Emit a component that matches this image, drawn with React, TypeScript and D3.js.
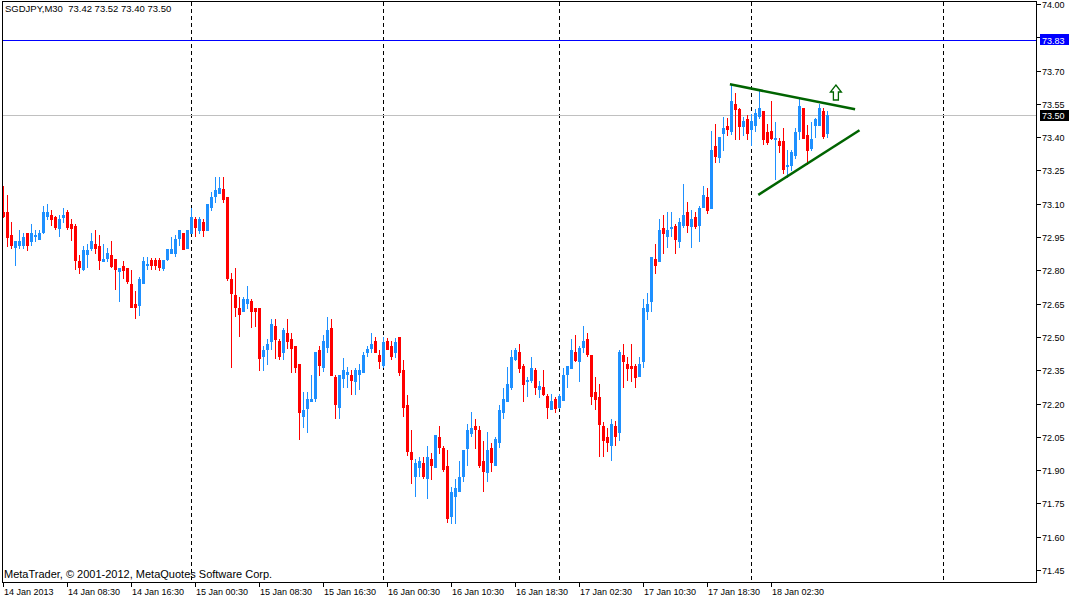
import * as d3 from "d3";
import React from "react";

// SGDJPY M30, one value per bar (bar 0 = 14 Jan 2013 00:30)
const opens = [
  73.065, 73.065, 72.96, 72.905, 72.915, 72.915, 72.97, 72.93, 72.955, 72.94,
  72.975, 73.045, 73.05, 73.04, 72.99, 73.04, 73.065, 73.01, 73.0, 72.84,
  72.805, 72.875, 72.9, 72.92, 72.91, 72.84, 72.855, 72.87, 72.85, 72.795,
  72.82, 72.81, 72.74, 72.65, 72.645, 72.745, 72.825, 72.845, 72.845, 72.845,
  72.81, 72.85, 72.88, 72.88, 72.945, 72.97, 72.9, 72.97, 73.03, 72.98,
  73.02, 72.98, 73.085, 73.135, 73.15, 73.165, 73.13, 72.76, 72.69, 72.63,
  72.615, 72.655, 72.66, 72.63, 72.63, 72.415, 72.445, 72.48, 72.55, 72.48,
  72.43, 72.52, 72.49, 72.46, 72.38, 72.145, 72.18, 72.21, 72.225, 72.44,
  72.365, 72.455, 72.54, 72.32, 72.185, 72.315, 72.335, 72.33, 72.3, 72.335,
  72.34, 72.43, 72.45, 72.48, 72.42, 72.375, 72.48, 72.46, 72.43, 72.5,
  72.35, 72.195, 71.98, 71.875, 71.915, 71.93, 71.865, 71.95, 71.915, 72.05,
  72.0, 71.92, 71.695, 71.785, 71.805, 71.875, 72.0, 72.065, 72.1, 72.08,
  71.94, 71.89, 72.0, 71.925, 72.025, 72.16, 72.21, 72.275, 72.4, 72.43,
  72.37, 72.3, 72.305, 72.35, 72.265, 72.275, 72.235, 72.175, 72.22, 72.185,
  72.215, 72.335, 72.36, 72.43, 72.39, 72.455, 72.49, 72.42, 72.25, 72.23,
  72.1, 72.05, 72.015, 72.1, 72.07, 72.42, 72.38, 72.37, 72.37, 72.325,
  72.39, 72.615, 72.66, 72.85, 72.84, 72.99, 72.955, 72.99, 73.0, 72.93,
  73.005, 73.065, 73.0, 73.04, 73.005, 73.085, 73.13, 73.08, 73.36, 73.31,
  73.42, 73.45, 73.43, 73.55, 73.525, 73.45, 73.48, 73.435, 73.455, 73.495,
  73.52, 73.425, 73.43, 73.39, 73.385, 73.385, 73.27, 73.275, 73.32, 73.43,
  73.53, 73.41, 73.35, 73.455, 73.455, 73.52, 73.42,
];
const highs = [
  73.18, 73.14, 73.02, 72.93, 72.98, 72.97, 72.97, 73.01, 72.98, 72.98,
  73.09, 73.1, 73.07, 73.045, 73.05, 73.08, 73.07, 73.03, 73.01, 72.87,
  72.91, 72.92, 72.97, 72.98, 72.96, 72.92, 72.9, 72.93, 72.85, 72.81,
  72.84, 72.81, 72.8, 72.705, 72.77, 72.86, 72.86, 72.855, 72.855, 72.855,
  72.845, 72.895, 72.95, 72.96, 72.98, 72.97, 72.98, 73.08, 73.04, 73.04,
  73.03, 73.1, 73.155, 73.22, 73.22, 73.22, 73.13, 72.79, 72.81, 72.68,
  72.68, 72.73, 72.67, 72.63, 72.63, 72.46, 72.49, 72.58, 72.58, 72.49,
  72.54, 72.58, 72.52, 72.46, 72.38, 72.25, 72.25, 72.33, 72.43, 72.46,
  72.51, 72.59, 72.58, 72.33, 72.33, 72.405, 72.365, 72.35, 72.36, 72.38,
  72.43, 72.46, 72.52, 72.5, 72.44, 72.5, 72.495, 72.48, 72.495, 72.5,
  72.395, 72.24, 72.08, 71.95, 71.96, 71.96, 72.01, 71.975, 72.06, 72.1,
  72.01, 71.99, 71.825, 71.86, 71.94, 71.99, 72.11, 72.16, 72.13, 72.1,
  72.03, 72.07, 72.02, 72.05, 72.195, 72.27, 72.365, 72.44, 72.45, 72.47,
  72.38, 72.32, 72.41, 72.36, 72.3, 72.35, 72.245, 72.245, 72.23, 72.245,
  72.36, 72.37, 72.49, 72.51, 72.46, 72.55, 72.52, 72.42, 72.32, 72.29,
  72.115, 72.09, 72.13, 72.12, 72.44, 72.47, 72.41, 72.47, 72.38, 72.41,
  72.67, 72.7, 72.86, 72.92, 73.03, 73.05, 73.065, 73.065, 73.01, 73.035,
  73.19, 73.11, 73.07, 73.065, 73.09, 73.18, 73.17, 73.43, 73.46, 73.4,
  73.49, 73.485, 73.64, 73.6, 73.53, 73.49, 73.5, 73.505, 73.525, 73.61,
  73.52, 73.46, 73.565, 73.47, 73.395, 73.44, 73.34, 73.34, 73.44, 73.58,
  73.53, 73.455, 73.47, 73.485, 73.55, 73.53, 73.52,
];
const lows = [
  73.04, 72.91, 72.9, 72.825, 72.9, 72.9, 72.89, 72.915, 72.93, 72.94,
  72.97, 73.03, 73.005, 72.985, 72.955, 73.02, 72.985, 72.935, 72.805, 72.79,
  72.8, 72.815, 72.89, 72.88, 72.805, 72.84, 72.84, 72.815, 72.715, 72.66,
  72.765, 72.745, 72.635, 72.585, 72.6, 72.745, 72.805, 72.805, 72.805, 72.8,
  72.8, 72.845, 72.88, 72.865, 72.915, 72.895, 72.9, 72.97, 72.955, 72.97,
  72.955, 72.98, 73.07, 73.11, 73.15, 73.11, 72.755, 72.365, 72.595, 72.505,
  72.615, 72.63, 72.545, 72.55, 72.35, 72.35, 72.38, 72.445, 72.405, 72.4,
  72.4, 72.45, 72.34, 72.34, 72.04, 72.095, 72.07, 72.21, 72.21, 72.33,
  72.345, 72.43, 72.33, 72.135, 72.135, 72.275, 72.275, 72.245, 72.245, 72.265,
  72.34, 72.415, 72.43, 72.43, 72.36, 72.365, 72.445, 72.4, 72.41, 72.33,
  72.145, 71.97, 71.84, 71.785, 71.875, 71.865, 71.775, 71.86, 71.915, 71.975,
  71.895, 71.665, 71.66, 71.66, 71.805, 71.85, 71.925, 72.055, 72.0, 71.915,
  71.805, 71.85, 71.895, 71.925, 72.005, 72.135, 72.21, 72.265, 72.395, 72.34,
  72.21, 72.235, 72.295, 72.245, 72.23, 72.24, 72.135, 72.175, 72.16, 72.18,
  72.215, 72.275, 72.36, 72.39, 72.3, 72.43, 72.415, 72.2, 72.175, 71.965,
  71.965, 71.985, 71.945, 72.015, 72.035, 72.275, 72.305, 72.3, 72.275, 72.325,
  72.365, 72.58, 72.615, 72.79, 72.84, 72.88, 72.905, 72.955, 72.88, 72.905,
  72.995, 72.975, 72.905, 72.99, 72.93, 73.085, 73.06, 73.08, 73.29, 73.29,
  73.34, 73.41, 73.415, 73.39, 73.39, 73.41, 73.39, 73.365, 73.43, 73.485,
  73.37, 73.37, 73.39, 73.21, 73.335, 73.24, 73.22, 73.25, 73.305, 73.39,
  73.395, 73.28, 73.34, 73.4, 73.455, 73.395, 73.4,
];
const closes = [
  73.045, 72.95, 72.915, 72.93, 72.93, 72.95, 72.915, 72.97, 72.96, 72.97,
  73.065, 73.065, 73.03, 72.995, 73.03, 73.05, 72.995, 72.99, 72.845, 72.815,
  72.89, 72.89, 72.93, 72.9, 72.845, 72.85, 72.88, 72.82, 72.805, 72.81,
  72.8, 72.75, 72.635, 72.635, 72.76, 72.84, 72.83, 72.825, 72.825, 72.815,
  72.845, 72.895, 72.895, 72.94, 72.98, 72.895, 72.98, 73.04, 72.995, 73.03,
  72.98, 73.1, 73.13, 73.16, 73.17, 73.12, 72.765, 72.7, 72.635, 72.605,
  72.67, 72.67, 72.615, 72.615, 72.405, 72.44, 72.47, 72.56, 72.49, 72.415,
  72.53, 72.48, 72.45, 72.365, 72.16, 72.17, 72.22, 72.22, 72.43, 72.375,
  72.48, 72.53, 72.33, 72.2, 72.33, 72.35, 72.34, 72.305, 72.35, 72.35,
  72.42, 72.445, 72.47, 72.43, 72.39, 72.475, 72.445, 72.415, 72.475, 72.34,
  72.185, 71.985, 71.95, 71.93, 71.94, 71.875, 71.96, 71.925, 72.06, 72.005,
  71.905, 71.685, 71.8, 71.82, 71.87, 71.99, 72.08, 72.09, 72.085, 71.925,
  71.895, 71.99, 71.935, 72.04, 72.17, 72.22, 72.29, 72.41, 72.44, 72.36,
  72.29, 72.305, 72.36, 72.275, 72.28, 72.245, 72.185, 72.21, 72.18, 72.235,
  72.33, 72.37, 72.44, 72.395, 72.45, 72.48, 72.425, 72.235, 72.22, 72.11,
  72.035, 72.025, 72.11, 72.055, 72.43, 72.39, 72.36, 72.36, 72.32, 72.38,
  72.63, 72.65, 72.86, 72.825, 72.98, 72.97, 72.98, 72.995, 72.94, 73.02,
  73.05, 73.005, 73.03, 73.0, 73.08, 73.14, 73.07, 73.34, 73.315, 73.4,
  73.44, 73.435, 73.565, 73.525, 73.45, 73.475, 73.42, 73.475, 73.51, 73.53,
  73.39, 73.38, 73.395, 73.395, 73.365, 73.255, 73.275, 73.335, 73.425, 73.54,
  73.395, 73.34, 73.39, 73.48, 73.53, 73.405, 73.5,
];

const priceTicks = [
  74.0, 73.85, 73.7, 73.55, 73.4, 73.25, 73.1, 72.95, 72.8, 72.65, 72.5,
  72.35, 72.2, 72.05, 71.9, 71.75, 71.6, 71.45,
];
const timeTickBars = [0, 16, 32, 48, 64, 80, 96, 112, 128, 144, 160, 176, 192];
const timeTickLabels = [
  "14 Jan 2013", "14 Jan 08:30", "14 Jan 16:30", "15 Jan 00:30", "15 Jan 08:30",
  "15 Jan 16:30", "16 Jan 00:30", "16 Jan 10:30", "16 Jan 18:30", "17 Jan 02:30",
  "17 Jan 10:30", "17 Jan 18:30", "18 Jan 02:30",
];
const separatorBars = [47, 95, 139, 187, 235];
const upperTrend: [number, number][] = [[181.6, 73.638], [212.9, 73.526]];
const lowerTrend: [number, number][] = [[188.7, 73.14], [214.0, 73.431]];
const arrowAt: [number, number] = [208.1, 73.635];
const levelPrice = 73.836;
const levelLabel = "73.83";
const bidPrice = 73.5;
const header = "SGDJPY,M30\u00a0\u00a073.42 73.52 73.40 73.50";
const copyright = "MetaTrader, © 2001-2012, MetaQuotes Software Corp.";

const W = 1075;
const H = 599;
const plotLeft = 2.5;
const plotTop = 1.5;
const plotRight = 1036.5;
const plotBottom = 582.5;
const font = "'Liberation Sans', Arial, sans-serif";
const bull = "#1E90FF";
const bear = "#FF0000";
const trendColor = "#006400";

export default function App() {
  const x = d3.scaleLinear([0, 258], [3.5, 3.5 + 4 * 258]);
  const y = d3.scaleLinear([71.45, 74.0], [570, 4]);
  const line = d3.line<[number, number]>((d) => x(d[0]), (d) => y(d[1]));
  const py = (p: number) => Math.round(y(p));

  const [ax, ay] = [x(arrowAt[0]), y(arrowAt[1])];
  const arrow = `M${ax},${ay} L${ax + 5.5},${ay + 7} L${ax + 2.5},${ay + 7} L${ax + 2.5},${ay + 15} L${ax - 2.5},${ay + 15} L${ax - 2.5},${ay + 7} L${ax - 5.5},${ay + 7} Z`;

  // price labels covered by the level / bid boxes are not drawn (as in the terminal)
  const boxed = [levelPrice, bidPrice];
  const visibleTicks = priceTicks.filter((p) => boxed.every((b) => Math.abs(y(p) - y(b)) > 9));

  return (
    <svg
      width={W}
      height={H}
      style={{ position: "absolute", left: 0, top: 0, background: "#fff" }}
      fontFamily={font}
      fontSize={9}
    >
      <rect width={W} height={H} fill="#fff" />

      {/* day separators */}
      <g stroke="#000" strokeDasharray="4,3" shapeRendering="crispEdges">
        {separatorBars.map((b) => (
          <line key={b} x1={x(b)} x2={x(b)} y1={plotTop} y2={plotBottom} />
        ))}
      </g>

      {/* level line and bid line */}
      <line x1={plotLeft} x2={plotRight} y1={py(levelPrice) + 0.5} y2={py(levelPrice) + 0.5}
        stroke="#0000FF" shapeRendering="crispEdges" />
      <line x1={plotLeft} x2={plotRight} y1={py(bidPrice) + 0.5} y2={py(bidPrice) + 0.5}
        stroke="#C0C0C0" shapeRendering="crispEdges" />

      {/* candles */}
      <g shapeRendering="crispEdges">
        {opens.map((o, i) => {
          const c = closes[i];
          const col = c >= o ? bull : bear;
          const top = py(Math.max(o, c));
          const bot = py(Math.min(o, c));
          return (
            <g key={i}>
              <line x1={x(i)} x2={x(i)} y1={py(highs[i])} y2={py(lows[i]) + 1} stroke={col} />
              <rect x={x(i) - 1.5} y={top} width={3} height={Math.max(1, bot - top + 1)} fill={col} />
            </g>
          );
        })}
      </g>

      {/* triangle trend lines */}
      <path d={line(upperTrend) ?? undefined} stroke={trendColor} strokeWidth={2.5} fill="none" />
      <path d={line(lowerTrend) ?? undefined} stroke={trendColor} strokeWidth={2.5} fill="none" />
      <path d={arrow} fill="#fff" stroke={trendColor} strokeWidth={1.3} />

      {/* frame */}
      <rect x={0} y={0} width={plotLeft} height={plotBottom} fill="#fff" />
      <rect x={plotLeft} y={plotTop} width={plotRight - plotLeft} height={plotBottom - plotTop}
        fill="none" stroke="#000" shapeRendering="crispEdges" />

      {/* price axis */}
      <g shapeRendering="crispEdges">
        {priceTicks.map((p) => (
          <line key={p} x1={plotRight} x2={plotRight + 4} y1={py(p) + 0.5} y2={py(p) + 0.5} stroke="#000" />
        ))}
        {visibleTicks.map((p) => (
          <text key={p} x={plotRight + 5.5} y={py(p) + 3.8}>{p.toFixed(2)}</text>
        ))}
      </g>
      <rect x={plotRight + 3.5} y={py(levelPrice) - 6} width={29} height={11} fill="#0000FF" />
      <text x={plotRight + 5.5} y={py(levelPrice) + 3.5} fill="#fff">{levelLabel}</text>
      <rect x={plotRight + 3.5} y={py(bidPrice) - 5} width={29} height={11} fill="#000" />
      <text x={plotRight + 5.5} y={py(bidPrice) + 4} fill="#fff">{bidPrice.toFixed(2)}</text>

      {/* time axis */}
      <g shapeRendering="crispEdges">
        {timeTickBars.map((b, k) => (
          <g key={b}>
            <line x1={x(b)} x2={x(b)} y1={plotBottom} y2={plotBottom + 4} stroke="#000" />
            <text x={x(b) + 0.5} y={595}>{timeTickLabels[k]}</text>
          </g>
        ))}
      </g>

      <text x={5} y={12} fontSize={9.5}>{header}</text>
      <text x={4} y={578} fontSize={11}>{copyright}</text>
    </svg>
  );
}
